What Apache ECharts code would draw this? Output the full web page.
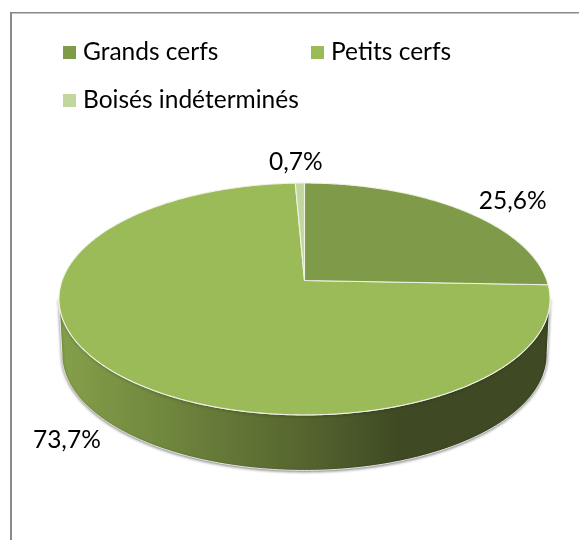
<!DOCTYPE html>
<html><head><meta charset="utf-8">
<style>html,body{margin:0;padding:0;background:#fff}#c{width:579px;height:540px}</style>
<script src="https://cdn.jsdelivr.net/npm/echarts@6/dist/echarts.min.js"></script>
</head><body><div id="c"></div>
<script>
const categories = ['Grands cerfs', 'Petits cerfs', 'Boisés indéterminés'];
const values = [25.6, 73.7, 0.7];
const colors = ['#7f9a48', '#9bbb59', '#c4d6a0'];

// perspective projection of the pie disc (homography of a unit circle)
const CX = 304.5, APEX_Y = 280.5, A = 242.4, B = 113, K = 0.1594, DEPTH = 55.5, BOTTOM_SCALE = 0.988;
const FONT = 'Lato, "Open Sans", sans-serif', FS = 24.5;
const labelOffset = [[51, -9], [-45, 69], [-4, -21]];

function proj(deg, r) {
  const t = deg * Math.PI / 180, u = r * Math.sin(t), v = r * Math.cos(t), d = 1 + K * v;
  return [CX + A * u / d, APEX_Y - B * v / d];
}
function arc(a0, a1) {
  const n = Math.max(2, Math.ceil(Math.abs(a1 - a0) * 2)), pts = [];
  for (let i = 0; i <= n; i++) pts.push(proj(a0 + (a1 - a0) * i / n, 1));
  return pts;
}
function wallPoints() {
  const e = Math.acos(-K) * 180 / Math.PI;
  const top = arc(e, 360 - e);
  const bottom = top.map(p => [CX + (p[0] - CX) * BOTTOM_SCALE, p[1] + DEPTH]).reverse();
  return top.concat(bottom);
}
const total = values.reduce((a, b) => a + b, 0);
let acc = 0;
const starts = values.map(v => { const s = acc; acc += v; return s; });

function renderSlice(idx) {
  return function (params, api) {
    const a0 = api.value(0) / total * 360, a1 = (api.value(0) + api.value(1)) / total * 360;
    const children = [];
    if (idx === 1) {
      children.push({
        type: 'polygon', z2: 1,
        shape: { points: wallPoints() },
        style: {
          fill: new echarts.graphic.LinearGradient(0, 0, 1, 0, [
            { offset: 0, color: '#85a04a' },
            { offset: 0.49, color: '#56662f' },
            { offset: 0.69, color: '#3f4a24' },
            { offset: 1, color: '#3f4a24' }
          ]),
          stroke: '#e8e8e8', lineWidth: 1,
          shadowBlur: 3, shadowColor: 'rgba(0,0,0,0.45)', shadowOffsetY: 1
        }
      });
    }
    children.push({
      type: 'polygon', z2: 2,
      shape: { points: [[CX, APEX_Y]].concat(arc(a0, a1)) },
      style: { fill: colors[idx], stroke: '#eef2e4', lineWidth: 1.1, lineJoin: 'round' }
    });
    const mid = proj((a0 + a1) / 2, 1);
    children.push({
      type: 'text', z2: 3,
      style: {
        x: mid[0] + labelOffset[idx][0], y: mid[1] + labelOffset[idx][1],
        text: api.value(1).toFixed(1).replace('.', ',') + '%',
        font: FS + 'px ' + FONT, fill: '#000', align: 'center', verticalAlign: 'middle'
      }
    });
    return { type: 'group', children };
  };
}
const legendPos = [[63, 40], [311, 40], [63, 88]];
const chart = echarts.init(document.getElementById('c'));
chart.setOption({
  animation: false,
  backgroundColor: '#fff',
  graphic: [
    { type: 'line', shape: { x1: 11, y1: 12.75, x2: 579, y2: 12.75 }, style: { stroke: '#8a8a8a', lineWidth: 1.5 }, z: -1 },
    { type: 'line', shape: { x1: 11, y1: 12, x2: 11, y2: 540 }, style: { stroke: '#8a8a8a', lineWidth: 2 }, z: -1 }
  ],
  legend: categories.map((c, i) => ({
    data: [c], left: legendPos[i][0], top: legendPos[i][1], icon: 'rect',
    itemWidth: 13, itemHeight: 13, itemGap: 0, padding: 0,
    textStyle: { fontFamily: FONT, fontSize: FS, color: '#000', padding: [0, 0, 0, 2] }
  })),
  series: categories.map((c, i) => ({
    type: 'custom', name: c, coordinateSystem: 'none', silent: true,
    z: i === 1 ? 2 : 3,
    itemStyle: { color: colors[i] },
    renderItem: renderSlice(i),
    data: [[starts[i], values[i]]]
  }))
});
</script></body></html>
